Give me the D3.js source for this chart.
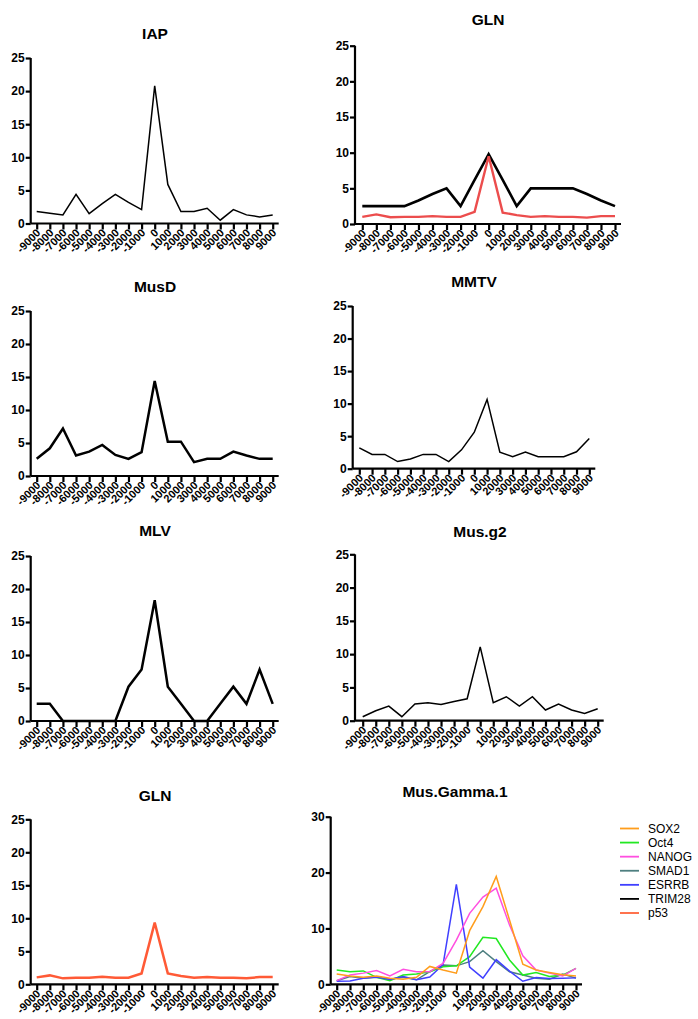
<!DOCTYPE html>
<html><head><meta charset="utf-8">
<script src="https://cdnjs.cloudflare.com/ajax/libs/d3/7.8.5/d3.min.js"></script>
<style>
body{margin:0;background:#fff;}
svg{display:block;font-family:"Liberation Sans",Arial,sans-serif;}
</style></head><body>
<svg id="c" width="698" height="1019"></svg>
<script>
// ---- data ----
const positions = ["-9000","-8000","-7000","-6000","-5000","-4000","-3000","-2000","-1000","0","1000","2000","3000","4000","5000","6000","7000","8000","9000"];
const yTicks25 = [0,5,10,15,20,25];
const yTicks30 = [0,10,20,30];

const iapValues   = [1.8,1.55,1.3,4.4,1.5,3.0,4.4,3.2,2.1,20.8,5.9,1.8,1.8,2.3,0.5,2.1,1.3,1.0,1.3];
const glnBlack    = [2.5,2.5,2.5,2.5,3.3,4.2,5.0,2.5,6.2,9.8,6.2,2.5,5.0,5.0,5.0,5.0,4.2,3.3,2.5];
const glnRed      = [1.0,1.35,0.95,1.0,1.0,1.1,1.0,1.0,1.7,9.5,1.6,1.25,1.0,1.1,1.0,1.0,0.9,1.1,1.1];
const musdValues  = [2.6,4.2,7.2,3.1,3.7,4.7,3.2,2.6,3.6,14.4,5.2,5.2,2.1,2.6,2.6,3.7,3.1,2.6,2.6];
const mmtvValues  = [3.2,2.2,2.2,1.1,1.5,2.2,2.2,1.1,2.9,5.6,10.65,2.55,1.85,2.55,1.85,1.85,1.85,2.6,4.65];
const mlvValues   = [2.6,2.6,0,0,0,0,0,5.2,7.8,18.3,5.2,2.6,0,0,2.6,5.2,2.6,7.8,2.6];
const musg2Values = [0.6,1.5,2.2,0.6,2.5,2.7,2.45,2.9,3.3,11.1,2.7,3.6,2.2,3.6,1.6,2.5,1.6,1.1,1.8];
const gln2Values  = [1.05,1.35,0.9,1.0,1.0,1.15,1.0,1.0,1.65,9.35,1.65,1.25,1.0,1.1,1.0,1.0,0.9,1.1,1.1];

const sox2  = [1.85,1.5,1.25,1.5,1.1,0.9,1.25,3.2,2.55,2.0,9.6,13.9,19.3,11.5,3.6,2.55,2.1,1.7,1.5];
const oct4  = [2.55,2.25,2.4,1.25,0.65,1.65,1.85,2.25,3.15,3.3,4.95,8.4,8.2,4.35,1.65,2.1,1.4,1.65,2.85];
const nanog = [0.65,1.65,2.0,2.45,1.5,2.7,2.25,2.25,3.75,7.9,12.7,15.6,17.2,10.6,5.1,2.55,2.0,1.5,2.85];
const smad1 = [0.65,1.4,1.1,1.25,0.9,1.25,0.8,2.25,3.45,3.3,4.05,6.0,4.05,2.25,1.65,1.1,0.9,1.85,1.1];
const esrrb = [0.55,0.6,1.1,1.3,0.85,1.4,0.8,1.3,3.5,17.9,3.1,1.1,4.4,2.35,0.55,1.2,1.05,1.1,1.15];

const legendNames = ["SOX2","Oct4","NANOG","SMAD1","ESRRB","TRIM28","p53"];

// ---- styles / layout ----
const C = {SOX2:"#ff9d1c",Oct4:"#22e822",NANOG:"#ff4fe0",SMAD1:"#4e7f80",ESRRB:"#4040ff",TRIM28:"#000000",p53:"#ff643a"};

const panels = [
 {title:"IAP", ticks:yTicks25, max:25, ax:30.7, x1:36.7, x2:272.7, yt:58, y0:223.5, tx:155, ty:39.3,
  series:[{v:iapValues,c:"#000",w:1.5}]},
 {title:"GLN", ticks:yTicks25, max:25, ax:355, x1:362.3, x2:615, yt:45.7, y0:224, tx:488, ty:25,
  series:[{v:glnBlack,c:"#000",w:2.6},{v:glnRed,c:"#ec4d4d",w:2.4}]},
 {title:"MusD", ticks:yTicks25, max:25, ax:30.7, x1:36.7, x2:272.7, yt:311, y0:476, tx:155, ty:291.7,
  series:[{v:musdValues,c:"#000",w:2.5}]},
 {title:"MMTV", ticks:yTicks25, max:25, ax:352.7, x1:359.3, x2:589.3, yt:306, y0:468.7, tx:474, ty:287.3,
  series:[{v:mmtvValues,c:"#000",w:1.5}]},
 {title:"MLV", ticks:yTicks25, max:25, ax:30.7, x1:36.7, x2:272.7, yt:556, y0:721, tx:155, ty:536,
  series:[{v:mlvValues,c:"#000",w:2.5}]},
 {title:"Mus.g2", ticks:yTicks25, max:25, ax:355, x1:362.7, x2:597.7, yt:554.3, y0:720.7, tx:480, ty:536.7,
  series:[{v:musg2Values,c:"#000",w:1.5}]},
 {title:"GLN", ticks:yTicks25, max:25, ax:30.7, x1:36.7, x2:272.7, yt:819.3, y0:984.3, tx:155, ty:800.7,
  series:[{v:gln2Values,c:"#ff5a36",w:2.5}]},
 {title:"Mus.Gamma.1", ticks:yTicks30, max:30, ax:330.7, x1:336.7, x2:576, yt:816.7, y0:984.3, tx:455, ty:797.3,
  series:[{v:smad1,c:C.SMAD1,w:1.5},{v:oct4,c:C.Oct4,w:1.5},{v:esrrb,c:C.ESRRB,w:1.5},{v:nanog,c:C.NANOG,w:1.5},{v:sox2,c:C.SOX2,w:1.5}]}
];

const svg = d3.select("#c");

panels.forEach(p=>{
  const g = svg.append("g");
  const x = d3.scalePoint().domain(positions).range([p.x1,p.x2]);
  const y = d3.scaleLinear().domain([0,p.max]).range([p.y0,p.yt]);

  g.append("text").attr("x",p.tx).attr("y",p.ty).attr("text-anchor","middle")
   .attr("font-size",15.5).attr("font-weight","bold").text(p.title);

  // y axis
  const ya = g.append("g").attr("transform",`translate(${p.ax},0)`)
    .call(d3.axisLeft(y).tickValues(p.ticks).tickSize(5).tickPadding(1).tickFormat(d3.format("d")));
  ya.select(".domain").attr("d",`M0,${p.yt}V${p.y0}`);
  ya.selectAll("line,path").attr("stroke","#000").attr("stroke-width",2.2);
  ya.selectAll("text").attr("font-size",12).attr("font-weight","bold").attr("fill","#000")
    .attr("font-family","'Liberation Sans',Arial,sans-serif");

  // x axis
  const xa = g.append("g").attr("transform",`translate(0,${p.y0})`)
    .call(d3.axisBottom(x).tickSize(6).tickSizeOuter(0));
  xa.select(".domain").attr("d",`M${p.ax},0H${p.x2+6}`);
  xa.selectAll("line,path").attr("stroke","#000").attr("stroke-width",2.2);
  xa.selectAll(".tick text")
    .attr("font-size",11).attr("font-weight","bold").attr("fill","#000")
    .attr("font-family","'Liberation Sans',Arial,sans-serif")
    .attr("text-anchor","end").attr("dy",0).attr("y",0)
    .attr("transform","translate(4,10) rotate(-45)");

  const line = d3.line().x((d,i)=>x(positions[i])).y(d=>y(d));
  p.series.forEach(s=>{
    g.append("path").datum(s.v).attr("d",line).attr("fill","none")
     .attr("stroke",s.c).attr("stroke-width",s.w).attr("stroke-linejoin","miter");
  });
});

// legend
const lg = svg.append("g");
const ly = d3.scalePoint().domain(legendNames).range([828.5,913]);
legendNames.forEach(n=>{
  lg.append("line").attr("x1",620).attr("x2",639).attr("y1",ly(n)).attr("y2",ly(n))
    .attr("stroke",C[n]).attr("stroke-width",1.8);
  lg.append("text").attr("x",648).attr("y",ly(n)+4.3).attr("font-size",12).attr("fill","#000").text(n);
});
</script>
</body></html>
